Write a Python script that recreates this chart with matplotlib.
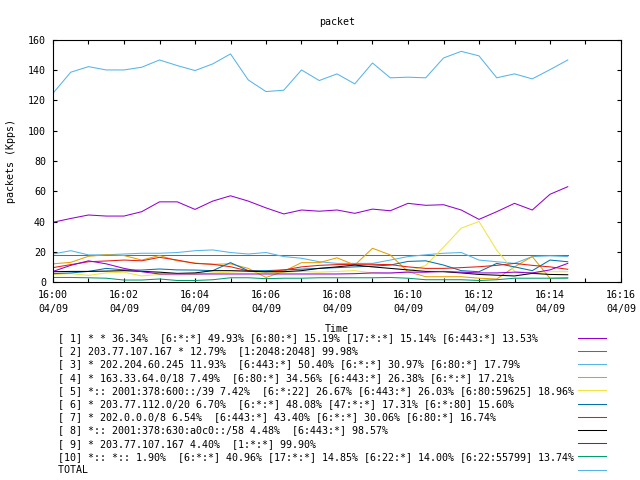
import numpy as np
import pandas as pd
import matplotlib
matplotlib.use("Agg")
import matplotlib.pyplot as plt
import matplotlib.dates as mdates

# --- data: 30 samples, one every 30 s from 16:00 ---
times = pd.date_range("2015-04-09 16:00:00", periods=30, freq="30s")

labels = [
    "[ 1] * * 36.34%  [6:*:*] 49.93% [6:80:*] 15.19% [17:*:*] 15.14% [6:443:*] 13.53%",
    "[ 2] 203.77.107.167 * 12.79%  [1:2048:2048] 99.98%",
    "[ 3] * 202.204.60.245 11.93%  [6:443:*] 50.40% [6:*:*] 30.97% [6:80:*] 17.79%",
    "[ 4] * 163.33.64.0/18 7.49%  [6:80:*] 34.56% [6:443:*] 26.38% [6:*:*] 17.21%",
    "[ 5] *:: 2001:378:600::/39 7.42%  [6:*:22] 26.67% [6:443:*] 26.03% [6:80:59625] 18.96%",
    "[ 6] * 203.77.112.0/20 6.70%  [6:*:*] 48.08% [47:*:*] 17.31% [6:*:80] 15.60%",
    "[ 7] * 202.0.0.0/8 6.54%  [6:443:*] 43.40% [6:*:*] 30.06% [6:80:*] 16.74%",
    "[ 8] *:: 2001:378:630:a0c0::/58 4.48%  [6:443:*] 98.57%",
    "[ 9] * 203.77.107.167 4.40%  [1:*:*] 99.90%",
    "[10] *:: *:: 1.90%  [6:*:*] 40.96% [17:*:*] 14.85% [6:22:*] 14.00% [6:22:55799] 13.74%",
    "TOTAL",
]

s1 = [39.5, 42, 44.3, 43.6, 43.6, 46.5, 53, 53, 48, 53.5, 57, 53.5, 49, 45, 47.6,
      46.8, 47.6, 45.4, 48.2, 47.1, 52, 50.7, 51.1, 47.6, 41.4, 46.5, 52, 47.6, 58, 63]
s2 = [18.0] * 30
s3 = [18.5, 20.7, 17.9, 18, 18.5, 19, 19, 19.5, 20.7, 21.2, 19.5, 18.5, 19.5, 16.8, 15.7,
      13.4, 12.3, 12.3, 12.3, 14.5, 16.8, 18, 19, 19.5, 14.5, 13.4, 12.3, 16.8, 17.3, 16.8]
s4 = [12, 13, 17, 18, 17.5, 14.5, 17.5, 14, 12.5, 11.7, 12, 9, 3, 7, 12.8,
      12.8, 16, 11.2, 22.3, 17.9, 6.8, 3.5, 3.5, 3.5, 2.5, 2, 10, 16.8, 2.4, 3]
s5 = [5, 5.5, 4.4, 6, 6.5, 4, 5, 4.5, 5, 6, 6.5, 7, 6, 6.5, 7,
      6.5, 7, 7.5, 6, 5.5, 7, 11, 23, 35.6, 40, 21, 7, 6.2, 6.8, 6.8]
s6 = [5.5, 6, 7, 9, 8, 7.9, 8.6, 8, 7.9, 7.5, 12.8, 7.5, 7.5, 8, 8.5,
      9, 9.5, 10, 10.5, 11.2, 13.6, 14, 11.2, 7.5, 6.8, 12.3, 10, 7.5, 14.5, 13.4]
s7 = [9.5, 11.5, 13.4, 13.9, 14.5, 14, 16.3, 14.5, 12.3, 11.7, 10.1, 7.3, 6.8, 7.9, 10,
      11, 11.5, 11.7, 11.7, 11.5, 10, 9, 9, 9.5, 10.1, 11, 12.3, 11, 10, 8.4]
s8 = [6.8, 7, 7, 7.2, 7.5, 7, 6.5, 5.7, 6, 7.5, 7.5, 7.2, 6.8, 6.8, 7.5,
      9, 10, 11.2, 10, 9, 8, 7, 6.8, 6, 5, 4.5, 4, 5.7, 5, 4.8]
s9 = [7, 11, 14, 12, 9, 6.8, 5.3, 5.3, 5.3, 5.3, 5.3, 5.3, 5.3, 5.3, 5.3,
      5.3, 5.3, 5.5, 6, 6, 6.5, 6.5, 7, 6.5, 6, 6, 6.5, 6, 8, 12.3]
s10 = [3, 3, 2.8, 2.5, 1.3, 1.3, 2, 1, 1, 1.5, 2.8, 2.8, 2.2, 2.5, 2.5,
       2.8, 2.8, 2.8, 2.8, 3, 2.5, 1.5, 1.5, 1.5, 1, 1.5, 2.5, 2.5, 2.5, 2.5]
total = [124.8, 138.7, 142.4, 140.2, 140.2, 142, 146.8, 143.1, 139.8, 144.2, 150.8,
         133.6, 125.9, 126.8, 140.2, 133.2, 137.6, 131, 144.8, 135, 135.4, 135,
         148.1, 152.5, 149.5, 135, 137.6, 134.3, 140.4, 146.8]

series = [s1, s2, s3, s4, s5, s6, s7, s8, s9, s10, total]

# gnuplot default line colours
colors = ["#9400d3", "#009e73", "#56b4e9", "#e69f00", "#f0e442",
          "#0072b2", "#e51e10", "#000000", "#9400d3", "#009e73", "#56b4e9"]

FONT = {"family": "DejaVu Sans Mono", "size": 7.2}
plt.rcParams["font.family"] = "DejaVu Sans Mono"
plt.rcParams["font.size"] = 7.2

fig = plt.figure(figsize=(6.4, 4.8), dpi=100)
ax = fig.add_axes([53 / 640, 1 - 282 / 480, 568 / 640, 242 / 480])

lines = []
for ys, c in zip(series, colors):
    ln, = ax.plot(times, ys, color=c, lw=0.75)
    lines.append(ln)

ax.set_xlim(pd.Timestamp("2015-04-09 16:00"), pd.Timestamp("2015-04-09 16:16"))
ax.set_ylim(0, 160)
ax.set_yticks(np.arange(0, 161, 20))
ax.xaxis.set_major_locator(mdates.MinuteLocator(interval=2))
ax.xaxis.set_minor_locator(mdates.MinuteLocator())
ax.xaxis.set_major_formatter(mdates.DateFormatter("%H:%M\n%m/%d"))
for lab in ax.get_xticklabels():
    lab.set_linespacing(1.45)

ax.tick_params(which="both", direction="in", top=True, right=True,
               length=3, width=0.8, labelsize=7.2, color="black")
ax.tick_params(axis="x", pad=6)
ax.tick_params(axis="y", pad=5)
for sp in ax.spines.values():
    sp.set_linewidth(0.8)

ax.set_title("packet", pad=11, fontdict=FONT)
ax.set_xlabel("Time", labelpad=7, fontdict=FONT)
ax.set_ylabel("packets (Kpps)", labelpad=9, fontdict=FONT)

# key under the plot, text on the left, line sample on the right
width = max(len(s) for s in labels)
padded = [s.ljust(width) for s in labels]
fig.legend(lines, padded, loc="upper left", bbox_to_anchor=(58 / 640, 1 - 333 / 480),
           frameon=False, markerfirst=False, handlelength=2.8, handletextpad=0.4,
           labelspacing=0.32, borderpad=0, borderaxespad=0, prop=FONT)

fig.savefig("out.png", dpi=100)
